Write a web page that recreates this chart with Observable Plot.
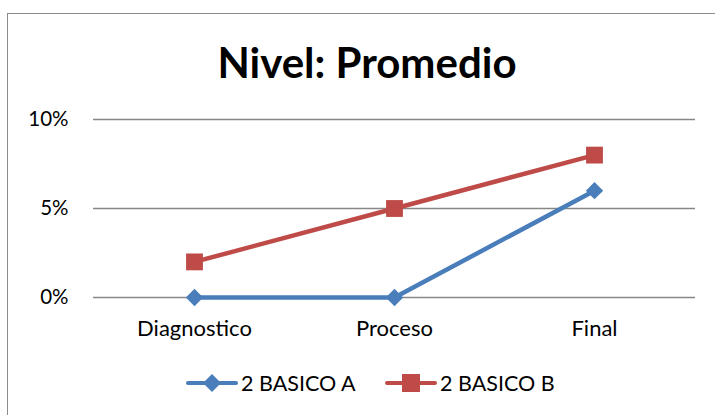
<!DOCTYPE html>
<html>
<head>
<meta charset="utf-8">
<script src="https://cdn.jsdelivr.net/npm/d3@7"></script>
<script src="https://cdn.jsdelivr.net/npm/@observablehq/plot@0.6"></script>
<style>
  html, body { margin: 0; padding: 0; background: #fff; }
  body { width: 715px; height: 415px; position: relative; overflow: hidden; font-family: Lato, "Open Sans", sans-serif; }
  #frame { position: absolute; left: 7px; top: 13px; width: 720px; height: 410px; border: 1.5px solid #8c8c8c; box-sizing: border-box; }
  #title { position: absolute; left: 0; top: 35px; width: 734px; text-align: center; font-size: 42px; font-weight: bold; color: #000; line-height: 54px; }
  #chart { position: absolute; left: 0; top: 100px; }
  #legend { position: absolute; left: 0; top: 370px; width: 715px; height: 26px; }
  .item { position: absolute; top: 0; display: flex; align-items: center; font-size: 21.5px; color: #000; height: 26px; }
  .item svg { margin-right: 3px; }
</style>
</head>
<body>
<div id="frame"></div>
<div id="title">Nivel: Promedio</div>
<div id="chart"></div>
<div id="legend"></div>
<script>
const categories = ["Diagnostico", "Proceso", "Final"];
const seriesNames = ["2 BASICO A", "2 BASICO B"];
const valuesA = [0, 0, 0.06];
const valuesB = [0.02, 0.05, 0.08];
const yTicks = [0, 0.05, 0.10];

const colors = {"2 BASICO A": "#4a7ebb", "2 BASICO B": "#be4b48"};
const symbols = {"2 BASICO A": "diamond2", "2 BASICO B": "square"};

const rows = [];
categories.forEach((c, i) => {
  rows.push({cat: c, series: seriesNames[0], value: valuesA[i]});
  rows.push({cat: c, series: seriesNames[1], value: valuesB[i]});
});

const plot = Plot.plot({
  width: 715,
  height: 250,
  marginLeft: 93,
  marginRight: 20,
  marginTop: 19,
  marginBottom: 53,
  style: {fontFamily: "Lato, 'Open Sans', sans-serif", fontSize: "21px", color: "#000", background: "transparent"},
  x: {type: "point", domain: categories, padding: 0.5, label: null},
  y: {domain: [0, 0.10], label: null},
  marks: [
    Plot.ruleY(yTicks, {stroke: "#878787", strokeWidth: 1.5}),
    Plot.axisY({ticks: yTicks, tickFormat: d => Math.round(d * 100) + "%", tickSize: 0, tickPadding: 25, fontSize: 20.5, label: null}),
    Plot.axisX({tickSize: 0, tickPadding: 23, fontSize: 22, label: null}),
    Plot.line(rows, {x: "cat", y: "value", z: "series", stroke: d => colors[d.series], strokeWidth: 4.5}),
    Plot.dot(rows.filter(d => d.series === seriesNames[0]), {x: "cat", y: "value", symbol: "diamond2", r: 7.8, fill: colors[seriesNames[0]], stroke: "none"}),
    Plot.dot(rows.filter(d => d.series === seriesNames[1]), {x: "cat", y: "value", symbol: "square", r: 9.5, fill: colors[seriesNames[1]], stroke: "none"})
  ]
});
document.getElementById("chart").appendChild(plot);

// legend
const legend = document.getElementById("legend");
const legendX = [186, 385];
seriesNames.forEach((s, i) => {
  const item = document.createElement("div");
  item.className = "item";
  item.style.left = legendX[i] + "px";
  const sym = symbols[s] === "square"
    ? `<rect x="17" y="4" width="18" height="18" fill="${colors[s]}"/>`
    : `<polygon points="26,4 35,13 26,22 17,13" fill="${colors[s]}"/>`;
  item.innerHTML = `<svg width="52" height="26"><line x1="2" y1="13" x2="50" y2="13" stroke="${colors[s]}" stroke-width="4" stroke-linecap="round"/>${sym}</svg><span>${s}</span>`;
  legend.appendChild(item);
});
</script>
</body>
</html>
